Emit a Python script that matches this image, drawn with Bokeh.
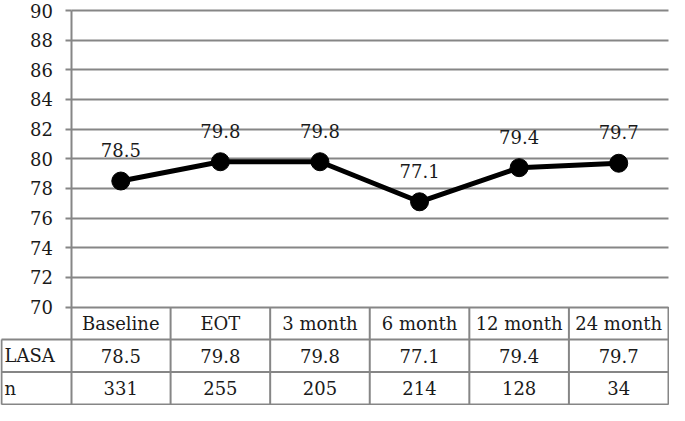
from bokeh.plotting import figure
from bokeh.models import Range1d, LinearAxis, FixedTicker, ColumnDataSource
from bokeh.core.properties import value
from bokeh.embed import file_html
from bokeh.resources import INLINE

# ---- data ----
categories = ["Baseline", "EOT", "3 month", "6 month", "12 month", "24 month"]
lasa = [78.5, 79.8, 79.8, 77.1, 79.4, 79.7]
n_values = [331, 255, 205, 214, 128, 34]
row_labels = ["LASA", "n"]
y_ticks = [70, 72, 74, 76, 78, 80, 82, 84, 86, 88, 90]

# ---- layout ----
W, H = 669, 405
Y_LO, Y_HI = 70, 90
ROW_H = 2.19          # table row height (y units)
LEFT_W = 0.698        # width of the row-label column (category units)
N = len(categories)
TABLE_BOTTOM = Y_LO - 3 * ROW_H
TOP_PAD, BOT_PAD = 10, 1
ppu = (H - TOP_PAD - BOT_PAD) / (Y_HI - TABLE_BOTTOM)
ppc = (W - 2) / (N + LEFT_W)

FONT_NAME = "DejaVu Serif"
FONT = value(FONT_NAME)
FONT_SIZE = "18px"
GRID_COLOR = "#868686"
TEXT_COLOR = "#1a1a1a"

p = figure(width=W, height=H, output_backend="svg", toolbar_location=None,
           x_range=Range1d(-LEFT_W - 1 / ppc, N + 1 / ppc),
           y_range=Range1d(TABLE_BOTTOM - BOT_PAD / ppu, Y_HI + TOP_PAD / ppu),
           x_axis_location=None, y_axis_location=None,
           min_border=0, outline_line_color=None)
p.background_fill_color = "white"
p.border_fill_color = "white"

yaxis = LinearAxis(ticker=FixedTicker(ticks=y_ticks), fixed_location=0,
                   bounds=(TABLE_BOTTOM, Y_HI))
yaxis.axis_line_color = GRID_COLOR
yaxis.axis_line_width = 2
yaxis.major_tick_line_color = GRID_COLOR
yaxis.major_tick_line_width = 2
yaxis.major_tick_in = 0
yaxis.major_tick_out = 6
yaxis.minor_tick_line_color = None
yaxis.major_label_standoff = 12
yaxis.major_label_text_font = FONT_NAME
yaxis.major_label_text_font_size = FONT_SIZE
yaxis.major_label_text_color = TEXT_COLOR
p.add_layout(yaxis, "left")

p.xgrid.visible = False
p.ygrid.ticker = FixedTicker(ticks=y_ticks)
p.ygrid.grid_line_color = GRID_COLOR
p.ygrid.grid_line_width = 2
p.ygrid.cross_bounds = (0, N)

# ---- table lines ----
h_y = [Y_LO - ROW_H * k for k in (1, 2, 3)]
p.segment(x0=[-LEFT_W] * 3, x1=[N] * 3, y0=h_y, y1=h_y,
          line_color=GRID_COLOR, line_width=2)
v_x = list(range(1, N + 1))
p.segment(x0=v_x, x1=v_x, y0=[Y_LO] * len(v_x), y1=[TABLE_BOTTOM] * len(v_x),
          line_color=GRID_COLOR, line_width=2)
p.segment(x0=[-LEFT_W], x1=[-LEFT_W], y0=[Y_LO - ROW_H], y1=[TABLE_BOTTOM],
          line_color=GRID_COLOR, line_width=2)

# ---- line series ----
xs = [i + 0.5 for i in range(N)]
src = ColumnDataSource(dict(x=xs, y=lasa, lbl=[f"{v:.1f}" for v in lasa]))
p.line("x", "y", source=src, line_color="black", line_width=5)
p.scatter("x", "y", source=src, size=18, fill_color="black", line_color="black")

common = dict(text_baseline="middle", text_font=FONT, text_font_size=FONT_SIZE,
              text_color=TEXT_COLOR)
p.text("x", "y", text="lbl", source=src, y_offset=-31, text_align="center",
       **common)

# ---- table texts ----
row_y = [Y_LO - ROW_H * (k + 0.5) for k in range(3)]
p.text(x=xs, y=[row_y[0]] * N, text=categories, text_align="center", **common)
p.text(x=xs, y=[row_y[1]] * N, text=[f"{v:.1f}" for v in lasa],
       text_align="center", **common)
p.text(x=xs, y=[row_y[2]] * N, text=[str(v) for v in n_values],
       text_align="center", **common)
p.text(x=[-LEFT_W + 0.03] * 2, y=row_y[1:], text=row_labels, text_align="left",
       **common)

open("out.html", "w").write(file_html(p, INLINE))
